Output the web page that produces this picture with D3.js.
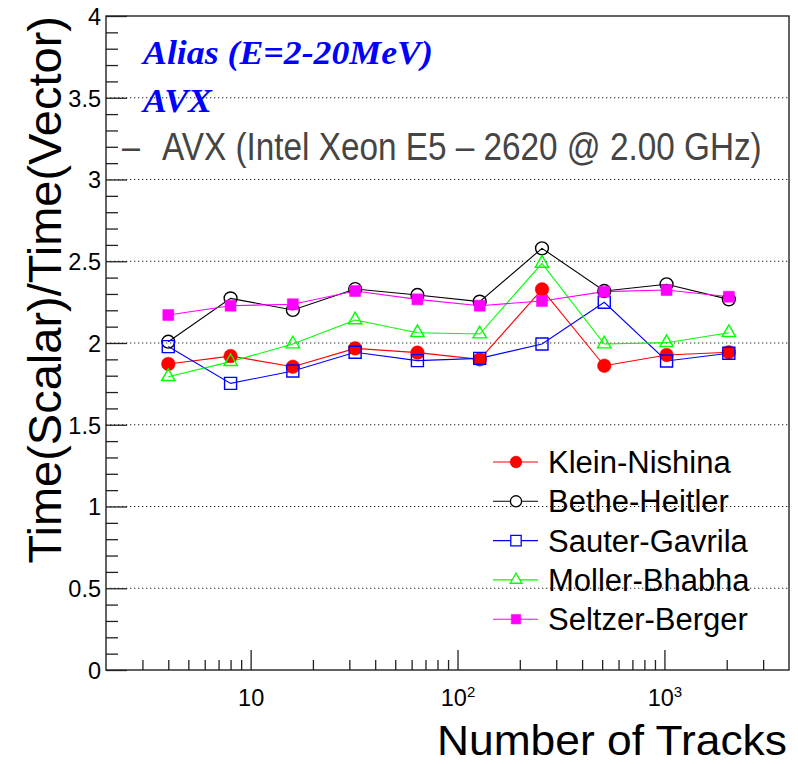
<!DOCTYPE html>
<html>
<head>
<meta charset="utf-8">
<script src="https://cdn.jsdelivr.net/npm/d3@7"></script>
<style>
  html, body { margin: 0; padding: 0; background: #fff; }
  svg { display: block; }
</style>
</head>
<body>
<svg id="chart" width="798" height="764"></svg>
<script>
// ---- data ----
const tracks = [4, 8, 16, 32, 64, 128, 256, 512, 1024, 2048];
const kleinNishina  = [1.872, 1.920, 1.855, 1.967, 1.941, 1.900, 2.328, 1.861, 1.927, 1.943];
const betheHeitler  = [2.008, 2.273, 2.202, 2.330, 2.294, 2.253, 2.579, 2.318, 2.359, 2.267];
const sauterGavrila = [1.978, 1.753, 1.829, 1.943, 1.892, 1.906, 1.994, 2.249, 1.890, 1.937];
const mollerBhabha  = [1.794, 1.886, 1.994, 2.141, 2.063, 2.055, 2.487, 1.994, 2.002, 2.063];
const seltzerBerger = [2.171, 2.228, 2.237, 2.318, 2.267, 2.228, 2.257, 2.314, 2.324, 2.283];
const seriesNames = ["Klein-Nishina", "Bethe-Heitler", "Sauter-Gavrila", "Moller-Bhabha", "Seltzer-Berger"];
const yMajorTicks = [0, 0.5, 1, 1.5, 2, 2.5, 3, 3.5, 4];
const yTickLabels = ["0", "0.5", "1", "1.5", "2", "2.5", "3", "3.5", "4"];
const xMajorTicks = [10, 100, 1000];
const xDomain = [2, 4000];
const yDomain = [0, 4];

const SANS = "'Liberation Sans', Arial, Helvetica, sans-serif";
const SERIF = "'Liberation Serif', 'Times New Roman', Times, serif";

const series = [
  { name: seriesNames[0], values: kleinNishina,  color: "#ff0000", symbol: d3.symbolCircle,   size: 145, fill: true },
  { name: seriesNames[1], values: betheHeitler,  color: "#000000", symbol: d3.symbolCircle,   size: 130, fill: false },
  { name: seriesNames[2], values: sauterGavrila, color: "#0000ff", symbol: d3.symbolSquare,   size: 144, fill: false },
  { name: seriesNames[3], values: mollerBhabha,  color: "#00ff00", symbol: d3.symbolTriangle, size: 78,  fill: false },
  { name: seriesNames[4], values: seltzerBerger, color: "#ff00ff", symbol: d3.symbolSquare,   size: 121, fill: true }
];

// ---- layout ----
const L = 106, R = 789, T = 16, B = 670;
const svg = d3.select("#chart");
const x = d3.scaleLog().domain(xDomain).range([L, R]);
const y = d3.scaleLinear().domain(yDomain).range([B, T]);

// place a text at (px,py) and scale it horizontally to a target width
function fitText(sel, px, py, width) {
  const w = sel.node().getComputedTextLength();
  const sx = width / w;
  sel.attr("x", null).attr("y", null)
    .attr("transform", `translate(${px},${py}) scale(${sx},1)`);
  return sel;
}

// grid (horizontal dotted)
svg.append("g").selectAll("line")
  .data(yMajorTicks.filter(v => v > yDomain[0] && v < yDomain[1]))
  .join("line")
  .attr("x1", L).attr("x2", R)
  .attr("y1", d => y(d)).attr("y2", d => y(d))
  .attr("stroke", "#222").attr("stroke-width", 1)
  .attr("stroke-dasharray", "1.3,2.7");

// frame
svg.append("rect").attr("x", L).attr("y", T).attr("width", R - L).attr("height", B - T)
  .attr("fill", "none").attr("stroke", "#222").attr("stroke-width", 1.4);

// y minor ticks
const yMinor = d3.range(0, 41).map(i => i / 10).filter(v => Math.round(v * 10) % 5 !== 0);
svg.append("g").attr("transform", `translate(${L},0)`)
  .call(d3.axisLeft(y).tickValues(yMinor).tickSize(-12).tickFormat(""))
  .call(g => g.select(".domain").remove())
  .call(g => g.selectAll("line").attr("stroke", "#222").attr("stroke-width", 1.3));

// y major ticks
svg.append("g").attr("transform", `translate(${L},0)`)
  .call(d3.axisLeft(y).tickValues(yMajorTicks).tickSize(-21).tickPadding(5)
    .tickFormat((d, i) => yTickLabels[i]))
  .call(g => g.select(".domain").remove())
  .call(g => g.selectAll("line").attr("stroke", "#222").attr("stroke-width", 1.3))
  .call(g => g.selectAll("text").style("font-size", "23.5px").attr("fill", "#000")
    .style("font-family", SANS).attr("dy", "0.36em"));

// x minor ticks
const xMinor = [];
[1, 10, 100, 1000].forEach(dec => { for (let k = 2; k <= 9; k++) { const v = k * dec; if (v > xDomain[0] && v < xDomain[1] && !xMajorTicks.includes(v)) xMinor.push(v); } });
svg.append("g").attr("transform", `translate(0,${B})`)
  .call(d3.axisBottom(x).tickValues(xMinor).tickSize(-10).tickFormat(""))
  .call(g => g.select(".domain").remove())
  .call(g => g.selectAll("line").attr("stroke", "#222").attr("stroke-width", 1.3));

// x major ticks
svg.append("g").attr("transform", `translate(0,${B})`)
  .call(d3.axisBottom(x).tickValues(xMajorTicks).tickSize(-20).tickPadding(19).tickFormat(""))
  .call(g => g.select(".domain").remove())
  .call(g => g.selectAll("line").attr("stroke", "#222").attr("stroke-width", 1.3))
  .call(g => g.selectAll(".tick text").each(function (d) {
    const t = d3.select(this).style("font-size", "23.5px").attr("fill", "#000")
      .style("font-family", SANS);
    const e = Math.round(Math.log10(d));
    t.text(null);
    t.append("tspan").text("10");
    if (e > 1) t.append("tspan").attr("dy", "-0.55em").style("font-size", "15px").text(String(e));
  }));

// axis titles
fitText(svg.append("text").attr("text-anchor", "start")
  .style("font-family", SANS).style("font-size", "43px").attr("fill", "#000")
  .text("Number of Tracks"), 437, 754.5, 350);
svg.append("text").attr("transform", "translate(61,16) rotate(-90)").attr("text-anchor", "end")
  .style("font-family", SANS).style("font-size", "47px").attr("fill", "#000")
  .text("Time(Scalar)/Time(Vector)");

// series lines and markers
const line = d3.line().x((d, i) => x(tracks[i])).y(d => y(d));
series.forEach(s => {
  svg.append("path").datum(s.values).attr("d", line)
    .attr("fill", "none").attr("stroke", s.color).attr("stroke-width", 1.1);
});
series.forEach(s => {
  const sym = d3.symbol().type(s.symbol).size(s.size);
  svg.append("g").selectAll("path").data(s.values).join("path")
    .attr("transform", (d, i) => `translate(${x(tracks[i])},${y(d)})`)
    .attr("d", sym)
    .attr("fill", s.fill ? s.color : "none")
    .attr("stroke", s.color).attr("stroke-width", s.fill ? 0.5 : 1.4);
});

// legend
const legY0 = 462, legDy = 39.3;
series.forEach((s, i) => {
  const ly = legY0 + i * legDy;
  svg.append("line").attr("x1", 493).attr("x2", 538).attr("y1", ly).attr("y2", ly)
    .attr("stroke", s.color).attr("stroke-width", 1.1);
  svg.append("path").attr("transform", `translate(516,${ly})`)
    .attr("d", d3.symbol().type(s.symbol).size(s.size * 0.75))
    .attr("fill", s.fill ? s.color : "#fff")
    .attr("stroke", s.color).attr("stroke-width", s.fill ? 0.5 : 1.3);
  svg.append("text").attr("x", 548).attr("y", ly + 11)
    .style("font-family", SANS).style("font-size", "31px")
    .attr("fill", "#000").text(s.name);
});

// annotations
fitText(svg.append("text")
  .style("font-family", SERIF).style("font-weight", "bold").style("font-style", "italic")
  .style("font-size", "33px").attr("fill", "#0000ff")
  .text("Alias (E=2-20MeV)"), 143, 64, 290);
fitText(svg.append("text")
  .style("font-family", SERIF).style("font-weight", "bold").style("font-style", "italic")
  .style("font-size", "33px").attr("fill", "#0000ff")
  .text("AVX"), 143, 112, 69);
fitText(svg.append("text")
  .style("font-family", SANS).style("font-size", "38px").attr("fill", "#454545")
  .text("\u2013"), 122, 160, 18);
fitText(svg.append("text")
  .style("font-family", SANS).style("font-size", "38px").attr("fill", "#454545")
  .text("AVX (Intel Xeon E5 \u2013 2620 @ 2.00 GHz)"), 162, 160, 600);
</script>
</body>
</html>
